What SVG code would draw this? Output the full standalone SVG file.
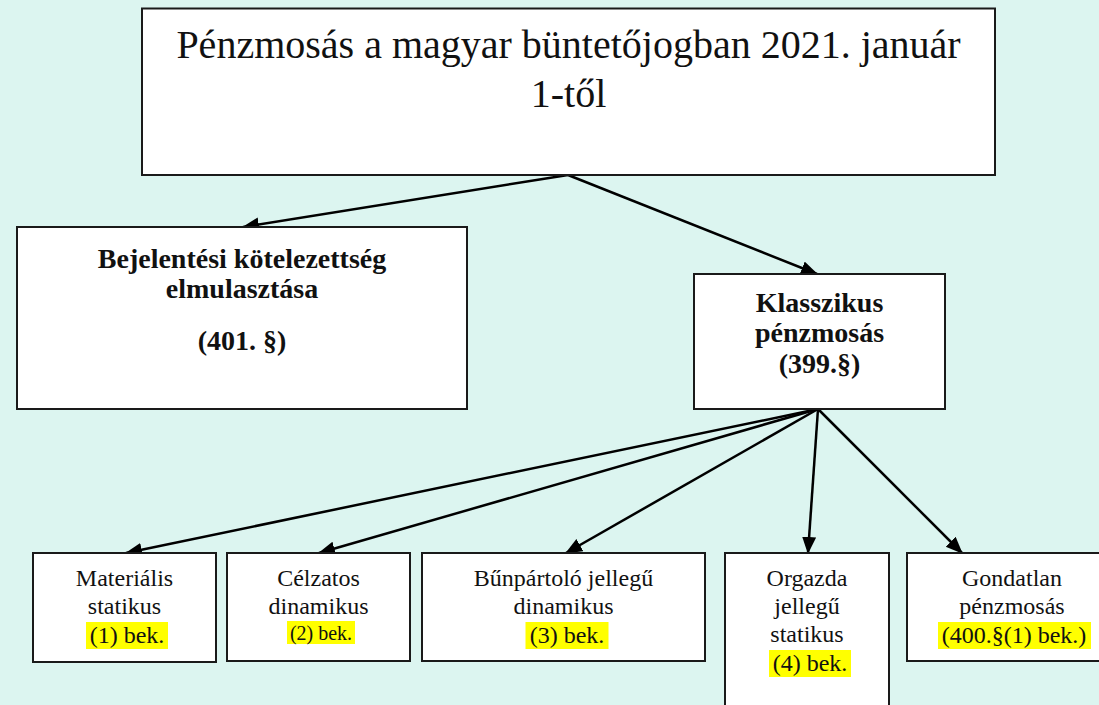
<svg xmlns="http://www.w3.org/2000/svg" width="1099" height="705" viewBox="0 0 1099 705">
<style>
.box{fill:#fff;stroke:#1a1a1a;stroke-width:2}
.t{font-family:"Liberation Serif","Times New Roman",serif;fill:#111;text-anchor:middle}
.b{font-weight:bold;font-size:28px}
.s{font-size:24px}
.hl{fill:#ffff00}
.c{stroke:#000;stroke-width:2.5;fill:none;marker-end:url(#ah)}
</style>
<defs>
<marker id="ah" markerUnits="userSpaceOnUse" markerWidth="20" markerHeight="16" refX="16" refY="7" orient="auto">
<path d="M0,0 L17,7 L0,14 z" fill="#000"/>
</marker>
</defs>
<rect width="1099" height="705" fill="#dcf5f0"/>
<g id="connectors">
<line class="c" x1="568" y1="175" x2="243" y2="227"/>
<line class="c" x1="568" y1="175" x2="817" y2="274"/>
<line class="c" x1="818" y1="409" x2="126" y2="553"/>
<line class="c" x1="818" y1="409" x2="319" y2="553"/>
<line class="c" x1="818" y1="409" x2="566" y2="553"/>
<line class="c" x1="818" y1="409" x2="808" y2="553"/>
<line class="c" x1="818" y1="409" x2="962" y2="553"/>
</g>
<g id="title">
<rect class="box" x="142" y="8.5" width="853" height="166.5"/>
<text class="t" x="568.5" y="58" font-size="40">Pénzmosás a magyar büntetőjogban 2021. január</text>
<text class="t" x="568.5" y="107" font-size="40">1-től</text>
</g>
<g id="bejelentesi">
<rect class="box" x="17" y="227" width="450" height="182"/>
<text class="t b" x="242" y="268">Bejelentési kötelezettség</text>
<text class="t b" x="242" y="298">elmulasztása</text>
<text class="t b" x="242" y="350">(401. §)</text>
</g>
<g id="klasszikus">
<rect class="box" x="694" y="274" width="251" height="135"/>
<text class="t b" x="819.5" y="312">Klasszikus</text>
<text class="t b" x="819.5" y="342">pénzmosás</text>
<text class="t b" x="819.5" y="373">(399.§)</text>
</g>
<g id="materialis">
<rect class="box" x="33" y="553" width="183" height="109"/>
<rect class="hl" x="86" y="622" width="82" height="27"/>
<text class="t s" x="124.5" y="586">Materiális</text>
<text class="t s" x="124.5" y="614">statikus</text>
<text class="t s" x="127" y="643">(1) bek.</text>
</g>
<g id="celzatos">
<rect class="box" x="227" y="553" width="183" height="108"/>
<rect class="hl" x="287" y="621" width="68" height="23"/>
<text class="t s" x="318.5" y="586">Célzatos</text>
<text class="t s" x="318.5" y="614">dinamikus</text>
<text class="t" x="321" y="640" font-size="20">(2) bek.</text>
</g>
<g id="bunpartolo">
<rect class="box" x="422" y="553" width="283" height="108"/>
<rect class="hl" x="525.5" y="622" width="83" height="27"/>
<text class="t s" x="563.5" y="586">Bűnpártoló jellegű</text>
<text class="t s" x="563.5" y="614">dinamikus</text>
<text class="t s" x="567" y="643">(3) bek.</text>
</g>
<g id="orgazda">
<rect class="box" x="725" y="553" width="164" height="160"/>
<rect class="hl" x="769" y="650" width="82" height="27"/>
<text class="t s" x="807" y="586">Orgazda</text>
<text class="t s" x="807" y="614">jellegű</text>
<text class="t s" x="807" y="642">statikus</text>
<text class="t s" x="810" y="671">(4) bek.</text>
</g>
<g id="gondatlan">
<rect class="box" x="907" y="553" width="215" height="108"/>
<rect class="hl" x="938" y="622" width="153" height="27"/>
<text class="t s" x="1012" y="586">Gondatlan</text>
<text class="t s" x="1012" y="614">pénzmosás</text>
<text class="t s" x="1014" y="643">(400.§(1) bek.)</text>
</g>
</svg>
